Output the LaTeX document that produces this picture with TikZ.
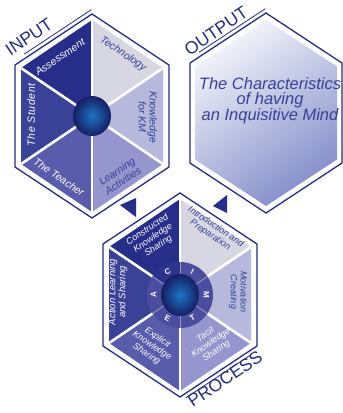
\documentclass[tikz,border=0pt]{standalone}
\usepackage{fontspec}
\setmainfont{Liberation Sans}
\usetikzlibrary{calc}
\definecolor{cA}{RGB}{38,46,138}
\definecolor{cB}{RGB}{58,66,152}
\definecolor{cC}{RGB}{88,92,170}
\definecolor{cD}{RGB}{148,150,205}
\definecolor{cE}{RGB}{183,185,220}
\definecolor{cF}{RGB}{214,215,226}
\definecolor{txtd}{RGB}{55,65,150}
\definecolor{outc}{RGB}{35,45,125}
\definecolor{ringc}{RGB}{75,78,158}
\definecolor{ringd}{RGB}{45,52,140}
\definecolor{ringl}{RGB}{150,150,200}
\definecolor{sphin}{RGB}{30,115,195}
\definecolor{sphout}{RGB}{22,30,100}
\definecolor{outtop}{RGB}{244,245,250}
\definecolor{outbot}{RGB}{132,142,202}
\newcommand\defhex[5]{%
  \path (#2,-#3) coordinate (#1c)
    +(0,#5) coordinate (#1v1)
    +(#4,#5/2) coordinate (#1v2)
    +(#4,-#5/2) coordinate (#1v3)
    +(0,-#5) coordinate (#1v4)
    +(-#4,-#5/2) coordinate (#1v5)
    +(-#4,#5/2) coordinate (#1v6);}
\begin{document}
\begin{tikzpicture}[x=1pt,y=1pt,
  outl/.style={draw=outc, line width=1.3pt, line join=miter},
  spoke/.style={white, line width=2.6pt},
  sect/.style={font=\itshape\fontsize{10.5}{11}\selectfont, align=center, inner sep=0pt},
  psect/.style={font=\itshape\fontsize{9}{9.8}\selectfont, align=center, inner sep=0pt},
  lbl/.style={font=\fontsize{17.5}{18}\selectfont, text=outc, inner sep=0pt},
  ltr/.style={font=\bfseries\fontsize{8}{8}\selectfont, text=white, inner sep=0pt},
  ball/.style={inner color=sphin, outer color=sphout},
  arrowtri/.style={fill=cA}]
\useasboundingbox (0,0) rectangle (343,-413);
\defhex{I}{92}{116}{71}{96}
\defhex{IO}{92}{116}{77}{102}
\defhex{O}{266}{113}{71}{93}
\defhex{OO}{266}{113}{76}{100}
\defhex{P}{180}{295}{71}{96}
\defhex{PO}{180}{295}{77}{102}

% ---------- INPUT ----------
\fill[cA] (Ic)--(Iv6)--(Iv1)--cycle;
\fill[cF] (Ic)--(Iv1)--(Iv2)--cycle;
\fill[cE] (Ic)--(Iv2)--(Iv3)--cycle;
\fill[cD] (Ic)--(Iv3)--(Iv4)--cycle;
\fill[cC] (Ic)--(Iv4)--(Iv5)--cycle;
\fill[cB] (Ic)--(Iv5)--(Iv6)--cycle;
\foreach \k in {1,...,6} \draw[spoke] (Ic)--(Iv\k);
\shade[ball] (Ic) ellipse [x radius=19, y radius=20];
\draw[outl] (IOv1)--(IOv2)--(IOv3)--(IOv4)--(IOv5)--(IOv6)--cycle;
\draw[outc, line width=0.8pt] ($(IOv6)!0.15!(IOv1)+(-2.2,3.3)$) coordinate (iu1) -- ($(IOv6)!1.02!(IOv1)+(-2.2,3.3)$) coordinate (iu2);

\node[sect, text=white, rotate=34] (tA) at (60,-57) {Assessment};
\node[sect, text=txtd, rotate=-34] (tT) at (123,-54) {Technology};
\node[sect, text=txtd, rotate=-90] (tK) at (148,-117) {Knowledge\\for KM};
\node[sect, text=txtd, rotate=34] (tL) at (120,-176) {Learning\\Activities};
\node[sect, text=white, rotate=-34] (tTe) at (59,-177) {The Teacher};
\node[sect, text=white, rotate=90, font=\itshape\fontsize{10.5}{11}\selectfont\addfontfeatures{LetterSpace=6}] (tS) at (31,-115) {The Student};
\node[lbl, rotate=34] (lin) at (29,-37) {INPUT};

% ---------- OUTPUT ----------
\shade[top color=outtop, bottom color=outbot, shading angle=35] (Ov1)--(Ov2)--(Ov3)--(Ov4)--(Ov5)--(Ov6)--cycle;
\draw[outl] (OOv1)--(OOv2)--(OOv3)--(OOv4)--(OOv5)--(OOv6)--cycle;
\draw[outc, line width=0.8pt] ($(OOv6)!0.15!(OOv1)+(-2.2,3.3)$) coordinate (ou1) -- ($(OOv6)!1.02!(OOv1)+(-2.2,3.3)$) coordinate (ou2);
\node[font=\itshape\fontsize{16.5}{14.5}\selectfont, text=txtd, align=center, inner sep=0pt] (otx) at (270,-101) {The Characteristics\\of having\\an Inquisitive Mind};
\node[lbl, rotate=34] (lout) at (216,-31) {OUTPUT};

% ---------- arrows ----------
\fill[arrowtri] (120,-205) coordinate (a1) -- (136,-198) coordinate (a2) -- (136,-217) coordinate (a3) -- cycle;
\fill[arrowtri] (213,-206) coordinate (b1) -- (227,-195) coordinate (b2) -- (227,-213) coordinate (b3) -- cycle;

% ---------- PROCESS ----------
\fill[cA] (Pc)--(Pv6)--(Pv1)--cycle;
\fill[cF] (Pc)--(Pv1)--(Pv2)--cycle;
\fill[cE] (Pc)--(Pv2)--(Pv3)--cycle;
\fill[cD] (Pc)--(Pv3)--(Pv4)--cycle;
\fill[cC] (Pc)--(Pv4)--(Pv5)--cycle;
\fill[cB] (Pc)--(Pv5)--(Pv6)--cycle;
\foreach \k in {1,...,6} \draw[spoke] (Pc)--(Pv\k);
\fill[ringc] (Pc) circle (33);
\fill[ringd] (Pc) -- ++(90:33) arc[start angle=90, end angle=146, radius=33] -- cycle;
\foreach \a in {90,34,-34,-90,-146,146} \draw[ringl, line width=0.9pt] (Pc) -- ++(\a:33);
\shade[ball] (Pc) ellipse [x radius=19, y radius=21];
\node[ltr, rotate=28] (rc) at ($(Pc)+(118:26.5)$) {C};
\node[ltr, rotate=-28] (ri) at ($(Pc)+(62:26.5)$) {I};
\node[ltr, rotate=-90] (rm) at ($(Pc)+(0:26.5)$) {M};
\node[ltr, rotate=28] (rt) at ($(Pc)+(-62:26.5)$) {T};
\node[ltr, rotate=-28] (re) at ($(Pc)+(-118:26.5)$) {E};
\node[ltr, rotate=90] (ra) at ($(Pc)+(180:26.5)$) {A};
\draw[outl] (POv1)--(POv2)--(POv3)--(POv4)--(POv5)--(POv6)--cycle;
\draw[outc, line width=0.8pt] ($(POv4)!0.05!(POv3)+(2.2,-3.3)$) coordinate (pu1) -- ($(POv4)!0.9!(POv3)+(2.2,-3.3)$) coordinate (pu2);

\node[psect, text=white, rotate=34] (pC) at (153,-238) {Constructed\\Knowledge\\Sharing};
\node[psect, text=txtd, rotate=-34] (pI) at (213,-231) {Introduction and\\Preparation};
\node[psect, text=txtd, rotate=-90] (pM) at (238,-292) {Motivation\\Creating};
\node[psect, text=white, rotate=34] (pT) at (211,-343) {Tacit\\Knowledge\\Sharing};
\node[psect, text=white, rotate=-34] (pE) at (152,-346) {Explicit\\Knowledge\\Sharing};
\node[psect, text=white, rotate=90, font=\itshape\fontsize{9.5}{10}\selectfont] (pA) at (118,-292) {Action Learning\\and Sharing};
\node[lbl, rotate=34] (lpr) at (225,-379) {PROCESS};
\end{tikzpicture}
\end{document}
